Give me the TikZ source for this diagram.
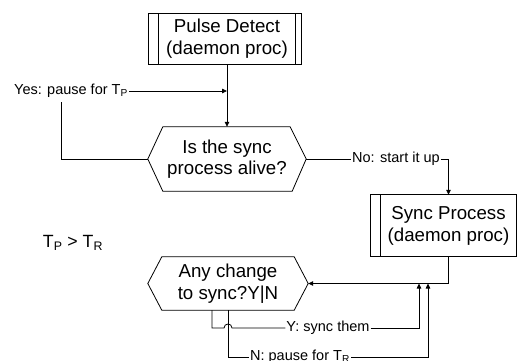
\documentclass[tikz,border=0pt]{standalone}
\usepackage{fontspec}
\setmainfont{Liberation Sans}
\usetikzlibrary{arrows.meta}

\tikzset{
  line/.style={draw=black, line width=0.8pt},
  arr/.style={line, -{Triangle[length=5pt,width=4.5pt]}},
  bigtext/.style={font=\fontsize{18.7pt}{22pt}\selectfont, align=center, inner sep=0pt},
  lbl/.style={font=\fontsize{14.5pt}{17pt}\selectfont, inner sep=1pt},
}

\begin{document}
\begin{tikzpicture}[x=1pt, y=-1pt]
\useasboundingbox (0,0) rectangle (517,360);

% --- nodes -------------------------------------------------------------
% Pulse Detect (predefined process)
\node[bigtext, minimum width=137pt, minimum height=50pt] (pd) at (227,39)
  {Pulse Detect\\(daemon proc)};
\draw[line] ([xshift=-10pt]pd.north west) rectangle ([xshift=6pt]pd.south east);
\draw[line] (pd.north west) -- (pd.south west);
\draw[line] (pd.north east) -- (pd.south east);

% Decision: is the sync process alive?
\node[bigtext, font=\fontsize{18.7pt}{20.5pt}\selectfont,
      minimum width=158pt, minimum height=64pt] (q1) at (227,159)
  {Is the sync\\process alive?};
\draw[line] (q1.west) -- ([xshift=15pt]q1.north west) -- ([xshift=-16pt]q1.north east)
  -- (q1.east) -- ([xshift=-14pt]q1.south east) -- ([xshift=15pt]q1.south west) -- cycle;

% Sync Process (predefined process)
\node[bigtext, minimum width=135pt, minimum height=61pt] (sp) at (448.5,225.5)
  {Sync Process\\(daemon proc)};
\draw[line] ([xshift=-10pt]sp.north west) rectangle (sp.south east);
\draw[line] (sp.north west) -- (sp.south west);

% Decision: any change to sync?
\node[bigtext, minimum width=160pt, minimum height=53pt] (q2) at (228,283.5)
  {Any change\\to sync?Y|N};
\draw[line] (q2.west) -- ([xshift=14pt]q2.north west) -- ([xshift=-14pt]q2.north east)
  -- (q2.east) -- ([xshift=-14pt]q2.south east) -- ([xshift=14pt]q2.south west) -- cycle;

% Timing note
\node[font=\fontsize{17.7pt}{20pt}\selectfont, inner sep=0pt] (tpr) at (73,243)
  {T\textsubscript{P} > T\textsubscript{R}};

% --- connector labels ---------------------------------------------------
\node[lbl] (yes) at (71,91) {Yes: pause for T\textsubscript{P}};
\node[lbl] (no) at (396,159) {No: start it up};
\node[lbl] (ylab) at (328,328) {Y: sync them};
\node[lbl] (nlab) at (300,357) {N: pause for T\textsubscript{R}};

\coordinate (yin) at (419,283.5);
\coordinate (nin) at (428,283.5);

% --- connectors ---------------------------------------------------------
\draw[arr] (pd.south) -- (q1.north);

% yes branch loops back above the decision
\draw[line] (q1.west) -| ([xshift=-10pt,yshift=-3pt]yes.south);
\draw[arr] (yes.east) -- (yes.east -| pd.south);

% no branch starts the sync process
\draw[line] (q1.east) -- (no.west);
\draw[arr] (no.east) -| (sp.north);

\draw[arr] (sp.south) |- (q2.east);

% Y branch, hopping over the N branch
\draw[line] ([xshift=-16pt]q2.south) |- (224,328)
  .. controls (224,322.7) and (232,322.7) .. (232,328) -- (ylab.west);
\draw[arr] (ylab.east) -| (yin);

% N branch
\draw[line] (q2.south) |- (nlab.west);
\draw[arr] (nlab.east) -| (nin);
\end{tikzpicture}
\end{document}
